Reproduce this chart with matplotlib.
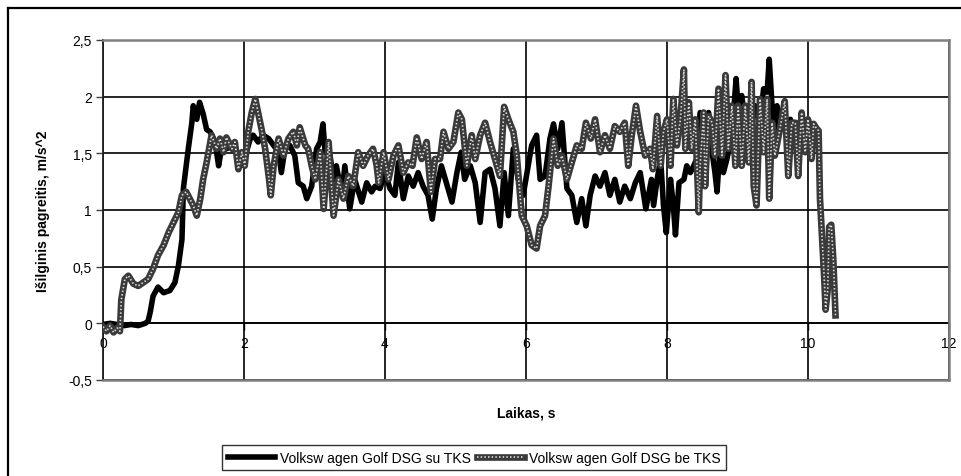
import matplotlib
matplotlib.use("Agg")
import matplotlib.pyplot as plt
from matplotlib.ticker import FuncFormatter
from matplotlib.legend_handler import HandlerTuple
from matplotlib.lines import Line2D

plt.rcParams['font.family'] = ['Liberation Sans', 'DejaVu Sans']

# Volkswagen Golf DSG su TKS (black)
t_su = [0, 0.1, 0.2, 0.3, 0.4, 0.5, 0.6, 0.64, 0.67, 0.71, 0.78, 0.86, 0.95,
        1.02, 1.07, 1.12, 1.14, 1.18, 1.21, 1.26, 1.28, 1.33, 1.37, 1.42, 1.47,
        1.52, 1.59, 1.64, 1.68, 1.75, 1.83, 1.90, 1.99, 2.09, 2.13, 2.20, 2.27,
        2.35, 2.42, 2.49, 2.53, 2.58, 2.65, 2.72, 2.77, 2.84, 2.89, 2.96, 3.03,
        3.08, 3.12, 3.15, 3.22, 3.27, 3.31, 3.39, 3.43, 3.50, 3.57, 3.67, 3.74,
        3.81, 3.86, 3.93, 4.00, 4.07, 4.14, 4.19, 4.26, 4.33, 4.40, 4.47, 4.54,
        4.61, 4.67, 4.73, 4.80, 4.87, 4.95, 5.02, 5.08, 5.13, 5.21, 5.28, 5.35,
        5.42, 5.49, 5.56, 5.63, 5.69, 5.75, 5.82, 5.89, 5.96, 6.03, 6.08, 6.15,
        6.20, 6.27, 6.34, 6.39, 6.45, 6.51, 6.58, 6.65, 6.72, 6.79, 6.85, 6.91,
        6.98, 7.05, 7.12, 7.19, 7.26, 7.33, 7.40, 7.48, 7.55, 7.62, 7.70, 7.78,
        7.81, 7.86, 7.91, 7.95, 7.99, 8.05, 8.09, 8.12, 8.17, 8.24, 8.28, 8.33,
        8.38, 8.42, 8.47, 8.52, 8.59, 8.64, 8.68, 8.71, 8.75, 8.80, 8.85, 8.92,
        8.98, 9.01, 9.06, 9.11, 9.16, 9.20, 9.25, 9.32, 9.37, 9.42, 9.45, 9.49,
        9.53, 9.56, 9.60, 9.65, 9.70, 9.75, 9.79, 9.84, 9.89]
a_su = [-0.01, 0.0, -0.01, -0.02, -0.01, -0.02, 0.0, 0.02, 0.10, 0.24, 0.32, 0.27, 0.29,
        0.36, 0.51, 0.74, 1.19, 1.39, 1.54, 1.77, 1.92, 1.80, 1.95, 1.85, 1.71,
        1.69, 1.60, 1.39, 1.54, 1.54, 1.57, 1.51, 1.42, 1.63, 1.66, 1.60, 1.66,
        1.63, 1.57, 1.51, 1.33, 1.54, 1.57, 1.48, 1.24, 1.21, 1.10, 1.21, 1.54,
        1.60, 1.76, 1.51, 1.48, 1.27, 1.39, 1.13, 1.39, 1.01, 1.27, 1.07, 1.24,
        1.16, 1.21, 1.19, 1.33, 1.19, 1.13, 1.42, 1.10, 1.30, 1.21, 1.33, 1.21,
        1.13, 0.92, 1.19, 1.39, 1.24, 1.07, 1.33, 1.51, 1.27, 1.39, 1.24, 0.89,
        1.33, 1.36, 1.19, 0.86, 1.33, 0.95, 1.54, 1.27, 1.13, 1.39, 1.57, 1.66,
        1.27, 1.30, 1.63, 1.76, 1.54, 1.77, 1.19, 1.13, 0.89, 1.10, 0.86, 1.13,
        1.30, 1.21, 1.33, 1.13, 1.27, 1.07, 1.21, 1.10, 1.24, 1.33, 1.01, 1.27,
        1.04, 1.27, 1.45, 1.04, 0.80, 1.27, 1.04, 0.78, 1.24, 1.27, 1.39, 1.33,
        1.39, 1.45, 1.86, 1.80, 1.86, 1.51, 1.33, 1.16, 1.54, 1.33, 1.45, 1.66,
        2.16, 1.89, 2.01, 1.77, 1.92, 1.74, 1.92, 1.77, 2.07, 2.04, 2.33, 1.92,
        1.69, 1.92, 1.77, 1.83, 1.74, 1.80, 1.71, 1.77, 1.69]

# Volkswagen Golf DSG be TKS (patterned grey)
t_be = [0, 0.05, 0.1, 0.15, 0.2, 0.24, 0.26, 0.31, 0.36, 0.43, 0.50, 0.57, 0.64,
        0.71, 0.78, 0.86, 0.93, 1.00, 1.07, 1.12, 1.18, 1.23, 1.28, 1.33, 1.38,
        1.42, 1.47, 1.54, 1.61, 1.66, 1.71, 1.75, 1.83, 1.87, 1.92, 1.97, 2.01,
        2.06, 2.11, 2.16, 2.20, 2.25, 2.30, 2.35, 2.38, 2.42, 2.49, 2.56, 2.63,
        2.70, 2.75, 2.79, 2.87, 2.91, 2.96, 3.01, 3.08, 3.13, 3.20, 3.27, 3.34,
        3.41, 3.48, 3.55, 3.62, 3.69, 3.76, 3.83, 3.88, 3.91, 3.98, 4.05, 4.12,
        4.19, 4.26, 4.33, 4.39, 4.45, 4.52, 4.59, 4.65, 4.71, 4.78, 4.83, 4.90,
        4.97, 5.04, 5.09, 5.16, 5.23, 5.28, 5.35, 5.42, 5.49, 5.56, 5.63, 5.69,
        5.75, 5.82, 5.87, 5.94, 6.01, 6.08, 6.15, 6.20, 6.27, 6.32, 6.39, 6.45,
        6.51, 6.58, 6.65, 6.72, 6.79, 6.85, 6.92, 6.98, 7.05, 7.12, 7.19, 7.26,
        7.33, 7.40, 7.45, 7.50, 7.56, 7.62, 7.69, 7.76, 7.80, 7.86, 7.91, 7.95,
        8.00, 8.05, 8.09, 8.14, 8.19, 8.24, 8.26, 8.31, 8.35, 8.40, 8.45, 8.47,
        8.52, 8.54, 8.59, 8.64, 8.68, 8.73, 8.78, 8.83, 8.87, 8.92, 8.97, 9.01,
        9.06, 9.11, 9.16, 9.20, 9.23, 9.27, 9.32, 9.37, 9.42, 9.45, 9.49, 9.53,
        9.60, 9.67, 9.72, 9.77, 9.82, 9.86, 9.91, 9.96, 10.00, 10.05, 10.08, 10.12,
        10.15, 10.17, 10.20, 10.23, 10.25, 10.28, 10.30, 10.33, 10.36, 10.39]
a_be = [-0.03, -0.07, -0.02, -0.08, -0.04, -0.07, 0.21, 0.39, 0.42, 0.35, 0.33, 0.36, 0.39,
        0.48, 0.60, 0.69, 0.80, 0.89, 0.98, 1.13, 1.16, 1.10, 1.04, 0.95, 1.10,
        1.27, 1.42, 1.66, 1.54, 1.63, 1.51, 1.64, 1.54, 1.60, 1.36, 1.51, 1.39,
        1.69, 1.86, 1.98, 1.86, 1.71, 1.54, 1.30, 1.13, 1.39, 1.63, 1.48, 1.63,
        1.69, 1.57, 1.73, 1.57, 1.54, 1.39, 1.27, 1.51, 1.01, 1.60, 0.95, 1.27,
        1.10, 1.30, 1.21, 1.51, 1.39, 1.48, 1.54, 1.40, 1.24, 1.51, 1.27, 1.48,
        1.57, 1.33, 1.42, 1.39, 1.64, 1.45, 1.60, 1.16, 1.45, 1.45, 1.69, 1.54,
        1.60, 1.86, 1.80, 1.39, 1.66, 1.45, 1.66, 1.77, 1.60, 1.45, 1.30, 1.91,
        1.80, 1.69, 1.48, 0.95, 0.86, 0.69, 0.66, 0.86, 0.95, 1.21, 1.63, 1.39,
        1.48, 1.27, 1.42, 1.57, 1.54, 1.77, 1.63, 1.80, 1.51, 1.66, 1.54, 1.74,
        1.69, 1.77, 1.39, 1.66, 1.92, 1.69, 1.48, 1.54, 1.36, 1.83, 1.39, 1.69,
        1.80, 1.39, 1.98, 1.57, 1.80, 2.24, 1.54, 1.95, 1.54, 1.80, 0.98, 1.39,
        1.86, 1.21, 1.83, 1.77, 1.48, 2.07, 1.48, 2.19, 1.54, 1.92, 1.39, 1.92,
        1.39, 1.92, 1.42, 2.13, 1.21, 1.04, 1.98, 1.51, 1.98, 1.10, 1.77, 1.48,
        1.71, 1.96, 1.30, 1.77, 1.77, 1.30, 1.86, 1.51, 1.80, 1.45, 1.76, 1.72,
        1.70, 1.10, 0.75, 0.40, 0.12, 0.30, 0.85, 0.87, 0.55, 0.07]

x_ticks = [0, 2, 4, 6, 8, 10, 12]
y_ticks = [-0.5, 0, 0.5, 1, 1.5, 2, 2.5]
y_min, y_max = -0.5, 2.5

label_su = "Volksw agen Golf DSG su TKS"
label_be = "Volksw agen Golf DSG be TKS"


def comma(v, pos):
    return ("%g" % v).replace(".", ",")


fig = plt.figure(figsize=(9.62, 4.77), dpi=100)
ax = fig.add_axes([103 / 962, 1 - 381 / 477, 846 / 962, 340 / 477])

ax.plot(t_su, a_su, color="black", lw=4.0, zorder=3)
g1, = ax.plot(t_be, a_be, color="#3a3a3a", lw=4.8, zorder=4)
g2, = ax.plot(t_be, a_be, color="#dcdcdc", lw=1.2, ls=(0, (0.9, 1.3)), zorder=5)

ax.set_xlim(0, 12)
ax.set_ylim(y_min, y_max)
ax.set_yticks(y_ticks)
ax.set_xticks(x_ticks)
ax.yaxis.set_major_formatter(FuncFormatter(comma))
ax.grid(True, color="black", lw=1.2)
ax.set_axisbelow(True)
for s in ax.spines.values():
    s.set_color("#808080")
    s.set_linewidth(1.8)
ax.spines["left"].set_color("#202020")
ax.spines["left"].set_linewidth(1.3)
ax.tick_params(axis="y", direction="out", length=5, width=1, color="#404040",
               labelsize=10, pad=3)
ax.tick_params(axis="x", bottom=False, labelbottom=False)

# x axis crosses at y = 0
sec = ax.secondary_xaxis((0 - y_min) / (y_max - y_min))
sec.set_xticks(x_ticks)
sec.xaxis.set_major_formatter(FuncFormatter(comma))
sec.spines["bottom"].set_color("black")
sec.spines["bottom"].set_linewidth(1.2)
sec.tick_params(axis="x", direction="out", length=5, width=1, labelsize=10, pad=4)

ax.set_ylabel("Išilginis pagreitis, m/s^2", fontsize=10, fontweight="bold", labelpad=13)
fig.text(526 / 962, 1 - 414 / 477, "Laikas, s", fontsize=10, fontweight="bold",
         ha="center", va="center")

h_su = Line2D([], [], color="black", lw=4.0)
fig.legend([h_su, (g1, g2)], [label_su, label_be],
           handler_map={tuple: HandlerTuple(ndivide=1, pad=0)},
           loc="upper left", bbox_to_anchor=(222 / 962, 1 - 446 / 477),
           ncol=2, fontsize=10, frameon=True, fancybox=False, edgecolor="black",
           handlelength=3.4, handletextpad=0.35, columnspacing=0.45,
           borderpad=0.4, borderaxespad=0)

# outer chart border (right/bottom run off the image)
fig.add_artist(Line2D([8 / 962, 8 / 962], [-0.1, 1 - 9 / 477], color="black",
                      lw=1.6, transform=fig.transFigure))
fig.add_artist(Line2D([8 / 962, 1.1], [1 - 9 / 477, 1 - 9 / 477], color="black",
                      lw=1.6, transform=fig.transFigure))

fig.savefig("out.png", dpi=100)
